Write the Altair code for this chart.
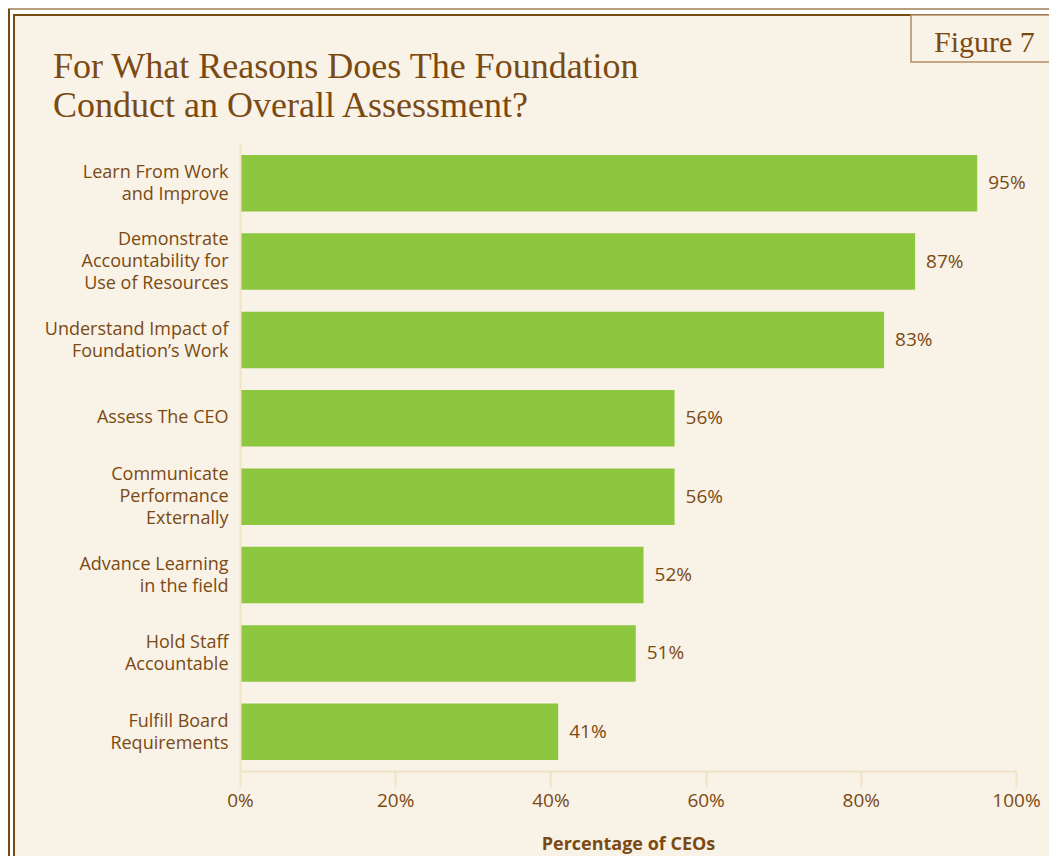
import altair as alt
import pandas as pd

# ---- data ----
categories = [
    "Learn From Work|and Improve",
    "Demonstrate|Accountability for|Use of Resources",
    "Understand Impact of|Foundation’s Work",
    "Assess The CEO",
    "Communicate|Performance|Externally",
    "Advance Learning|in the field",
    "Hold Staff|Accountable",
    "Fulfill Board|Requirements",
]
values = [95, 87, 83, 56, 56, 52, 51, 41]
x_ticks = [0, 20, 40, 60, 80, 100]
title_lines = ["For What Reasons Does The Foundation", "Conduct an Overall Assessment?"]
figure_label = "Figure 7"
axis_title = "Percentage of CEOs"

BROWN = "#7B4A12"
DARK = "#7A4A10"
LIGHT_LINE = "#B89E80"
CREAM = "#F9F2E7"
GREEN = "#8DC63F"
AXIS = "#F0E3C8"
LABEL_FONT = "Open Sans"
SERIF = "Liberation Serif"

df = pd.DataFrame({
    "reason": categories,
    "pct": values,
    "label": [f"{v}%" for v in values],
})
one = pd.DataFrame({"k": [0]})
titles = pd.DataFrame({"t": title_lines, "yy": [-66, -27]})

W, H = 776, 627

# ---- frame decorations ----
cream_bg = alt.Chart(one).mark_rect(color=CREAM).encode(
    x=alt.value(-225), x2=alt.value(830), y=alt.value(-128), y2=alt.value(760))
inner_top = alt.Chart(one).mark_rect(color=DARK).encode(
    x=alt.value(-227), x2=alt.value(830), y=alt.value(-130), y2=alt.value(-128))
inner_left = alt.Chart(one).mark_rect(color=DARK).encode(
    x=alt.value(-227), x2=alt.value(-225), y=alt.value(-130), y2=alt.value(760))
outer_top = alt.Chart(one).mark_rect(color=LIGHT_LINE).encode(
    x=alt.value(-232), x2=alt.value(830), y=alt.value(-136), y2=alt.value(-134))
outer_left = alt.Chart(one).mark_rect(color=DARK).encode(
    x=alt.value(-232), x2=alt.value(-230), y=alt.value(-135), y2=alt.value(760))
fig_box = alt.Chart(one).mark_rect(fill=CREAM, stroke="#B08D66", strokeWidth=1.5).encode(
    x=alt.value(671), x2=alt.value(840), y=alt.value(-129), y2=alt.value(-82))
fig_text = alt.Chart(pd.DataFrame({"t": [figure_label]})).mark_text(
    font=SERIF, fontSize=30, color=BROWN, align="left", baseline="alphabetic"
).encode(text="t:N", x=alt.value(694), y=alt.value(-92))

title_text = alt.Chart(titles).mark_text(
    font=SERIF, fontSize=36, color=BROWN, align="left", baseline="alphabetic"
).encode(text="t:N", x=alt.value(-187), y=alt.Y("yy:Q", scale=None))

# ---- bars ----
nlines = "length(split(datum.label, '|'))"
y_enc = alt.Y(
    "reason:N", sort=categories, title=None,
    scale=alt.Scale(paddingInner=0.28, paddingOuter=0.14),
    axis=alt.Axis(
        labelExpr="split(datum.label, '|')", labelFont=LABEL_FONT, labelFontSize=18,
        labelColor=BROWN, labelLineHeight=22, labelPadding=12, ticks=False,
        labelOffset={
            "condition": [
                {"test": f"{nlines} == 3", "value": -22},
                {"test": f"{nlines} == 2", "value": -10},
            ],
            "value": 0,
        },
        domainColor=AXIS, domainWidth=2, labelLimit=300, zindex=1,
    ),
)
x_enc = alt.X(
    "pct:Q", title=axis_title,
    scale=alt.Scale(domain=[0, 100], nice=False),
    axis=alt.Axis(
        values=x_ticks, labelExpr="datum.value + '%'", labelFont=LABEL_FONT,
        labelFontSize=19, labelColor=BROWN, tickColor=AXIS, tickSize=16, tickWidth=2,
        domainColor=AXIS, domainWidth=2, grid=False, labelPadding=4, labelFlush=False,
        titleFont=LABEL_FONT, titleFontSize=18, titleFontWeight="bold",
        titleColor=BROWN, titlePadding=25, zindex=1,
    ),
)

bars = alt.Chart(df).mark_bar(color=GREEN).encode(x=x_enc, y=y_enc)
labels = alt.Chart(df).mark_text(
    align="left", baseline="middle", dx=11, dy=0, font=LABEL_FONT, fontSize=19, color=BROWN
).encode(x="pct:Q", y=alt.Y("reason:N", sort=categories), text="label:N")

chart = alt.layer(
    cream_bg, inner_top, inner_left, outer_top, outer_left, fig_box, fig_text,
    title_text, bars, labels,
).properties(
    width=W, height=H,
    background="white",
    padding={"left": 232, "top": 136, "right": 33, "bottom": 85},
    autosize=alt.AutoSizeParams(type="none"),
).configure_view(stroke=None)

chart.save("out.html", embed_options={"renderer": "svg", "actions": False})
